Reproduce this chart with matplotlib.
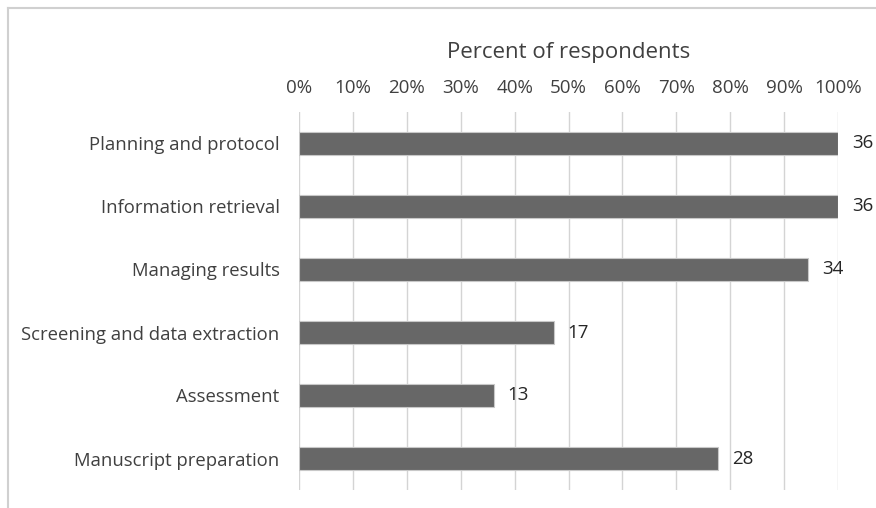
import matplotlib.pyplot as plt
import numpy as np

# data (counts out of 36 respondents)
categories = ["Planning and protocol", "Information retrieval", "Managing results",
              "Screening and data extraction", "Assessment", "Manuscript preparation"]
counts = [36, 36, 34, 17, 13, 28]
total = 36
tick_values = [0, 10, 20, 30, 40, 50, 60, 70, 80, 90, 100]

plt.rcParams['font.family'] = ['Open Sans', 'DejaVu Sans']
text_col = '#404040'

fig = plt.figure(figsize=(8.76, 5.08), dpi=100)
ax = fig.add_axes([299 / 876, 1 - 490 / 508, (838 - 299) / 876, (490 - 112) / 508])

percents = np.array(counts) / total * 100
y = np.arange(len(categories))
ax.barh(y, percents, height=0.35, color='#676767', edgecolor='#c8c8c8', linewidth=0.8, zorder=3)

for yi, p, c in zip(y, percents, counts):
    ax.text(p + 2.6, yi, str(c), va='center', ha='left', fontsize=13.5, color='#262626')

ax.set_xlim(0, 100)
ax.set_ylim(len(categories) - 0.5, -0.5)
ax.set_xticks(tick_values)
ax.set_xticklabels([f"{t}%" for t in tick_values])
ax.xaxis.tick_top()
ax.xaxis.set_label_position('top')
ax.set_xlabel("Percent of respondents", fontsize=16, color=text_col, labelpad=15)
ax.tick_params(axis='x', length=0, pad=11, labelsize=13.5, labelcolor=text_col)
ax.set_yticks(y)
ax.set_yticklabels(categories)
ax.tick_params(axis='y', length=0, pad=14, labelsize=13.3, labelcolor=text_col)

ax.grid(axis='x', color='#d4d4d4', linewidth=1, zorder=0)
for s in ax.spines.values():
    s.set_visible(False)

# chart border (only top and left visible in the crop)
fig.add_artist(plt.Line2D([8 / 876, 1], [1 - 8 / 508, 1 - 8 / 508], color='#d0d0d0', linewidth=1.5))
fig.add_artist(plt.Line2D([8 / 876, 8 / 876], [0, 1 - 8 / 508], color='#d0d0d0', linewidth=1.5))

fig.savefig("out.png", dpi=100)
